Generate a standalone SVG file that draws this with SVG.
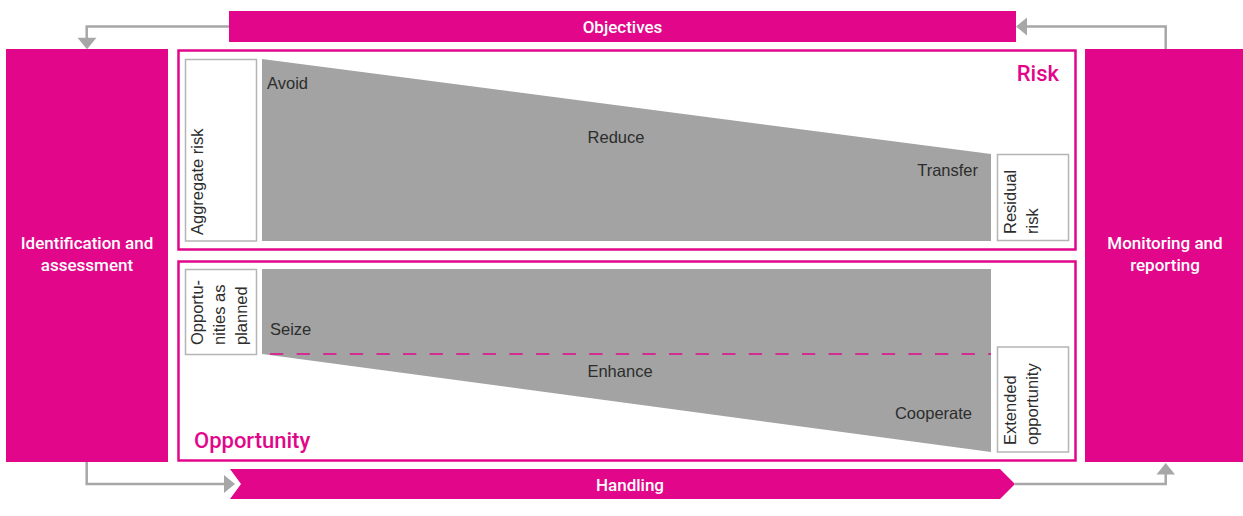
<svg xmlns="http://www.w3.org/2000/svg" width="1243" height="516" viewBox="0 0 1243 516">
<style>
.mag{fill:#E2078A}
.panel{fill:#fff;stroke:#E2078A;stroke-width:2.5}
.wbox{fill:#fff;stroke:#B5B5B5;stroke-width:1.5}
.wedge{fill:#A2A3A2}
.wl{font-family:Roboto,"Liberation Sans",sans-serif;font-weight:500;font-size:17px;fill:#fff;text-anchor:middle}
.gl{font-family:"Liberation Sans",Arial,sans-serif;font-size:16.5px;fill:#2D2D2D}
.pl{font-family:Roboto,"Liberation Sans",sans-serif;font-weight:500;font-size:22px;fill:#E2078A}
.conn{fill:none;stroke:#A7A7A7;stroke-width:2.5}
.head{fill:#A7A7A7}
.dash{stroke:#E2078A;stroke-width:1.5;stroke-dasharray:13.3 13.3;stroke-dashoffset:-8}
</style>
<rect width="1243" height="516" fill="#fff"/>
<g id="connectors">
  <polyline class="conn" points="229,26.5 86.7,26.5 86.7,39"/>
  <polygon class="head" points="77.5,37.7 96.5,37.7 87,49.3"/>
  <polyline class="conn" points="1165.7,49 1165.7,26.5 1026,26.5"/>
  <polygon class="head" points="1027,17.5 1027,35.5 1016,26.5"/>
  <polyline class="conn" points="86.7,462 86.7,484 225,484"/>
  <polygon class="head" points="224,475 224,493 235,484"/>
  <polyline class="conn" points="1015,484 1165.7,484 1165.7,473"/>
  <polygon class="head" points="1156.5,474.5 1175,474.5 1165.7,463"/>
</g>
<g id="objectives">
  <rect class="mag" x="229" y="11" width="787" height="31"/>
  <text class="wl" x="622.5" y="33">Objectives</text>
</g>
<g id="identification">
  <rect class="mag" x="6" y="49" width="162" height="413"/>
  <text class="wl" x="87" y="249">Identification and</text>
  <text class="wl" x="87" y="271">assessment</text>
</g>
<g id="monitoring">
  <rect class="mag" x="1085" y="49" width="160" height="413"/>
  <text class="wl" x="1165" y="249">Monitoring and</text>
  <text class="wl" x="1165" y="271">reporting</text>
</g>
<g id="handling">
  <polygon class="mag" points="230,469 1000,469 1015,484 1000,499 230,499 241,484"/>
  <text class="wl" x="630" y="490.5">Handling</text>
</g>
<g id="risk-panel">
  <rect class="panel" x="178.5" y="50.5" width="897" height="199"/>
  <text class="pl" x="1059" y="81" text-anchor="end">Risk</text>
</g>
<g id="risk-wedge">
  <polygon class="wedge" points="262,59 991,154 991,241 262,241"/>
  <text class="gl" x="267" y="88.5">Avoid</text>
  <text class="gl" x="616" y="142.5" text-anchor="middle">Reduce</text>
  <text class="gl" x="978" y="175.5" text-anchor="end">Transfer</text>
</g>
<g id="aggregate-risk">
  <rect class="wbox" x="185.5" y="59.5" width="71" height="181.5"/>
  <text class="gl" transform="translate(203,235) rotate(-90)">Aggregate risk</text>
</g>
<g id="residual-risk">
  <rect class="wbox" x="997.5" y="154.5" width="71" height="86"/>
  <text class="gl" transform="translate(1016,234) rotate(-90)">Residual</text>
  <text class="gl" transform="translate(1038,234) rotate(-90)">risk</text>
</g>
<g id="opportunity-panel">
  <rect class="panel" x="178.5" y="261.5" width="897" height="199"/>
  <text class="pl" x="194" y="448">Opportunity</text>
</g>
<g id="opportunity-wedge">
  <polygon class="wedge" points="262,269 991,269 991,452 262,354"/>
  <line class="dash" x1="262" y1="354" x2="991" y2="354"/>
  <text class="gl" x="270" y="335">Seize</text>
  <text class="gl" x="620" y="377" text-anchor="middle">Enhance</text>
  <text class="gl" x="972" y="419" text-anchor="end">Cooperate</text>
</g>
<g id="opportunities-as-planned">
  <rect class="wbox" x="185.5" y="269.5" width="71" height="85"/>
  <text class="gl" transform="translate(203,345) rotate(-90)">Opportu-</text>
  <text class="gl" transform="translate(225,345) rotate(-90)">nities as</text>
  <text class="gl" transform="translate(247,345) rotate(-90)">planned</text>
</g>
<g id="extended-opportunity">
  <rect class="wbox" x="997.5" y="347" width="71" height="105"/>
  <text class="gl" transform="translate(1016,445) rotate(-90)">Extended</text>
  <text class="gl" transform="translate(1038,445) rotate(-90)">opportunity</text>
</g>
</svg>
